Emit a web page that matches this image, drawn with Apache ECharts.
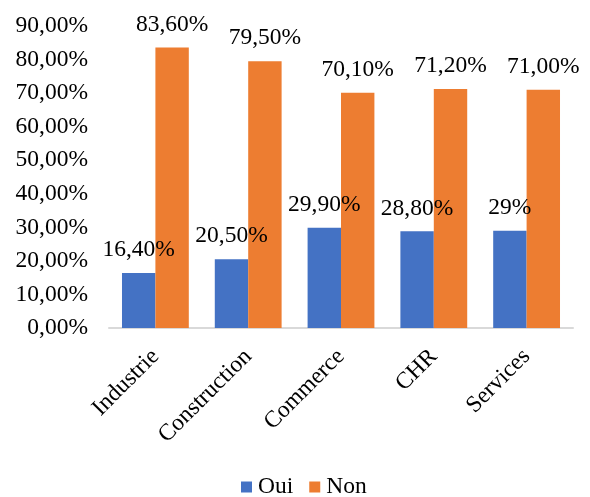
<!DOCTYPE html>
<html>
<head>
<meta charset="utf-8">
<script src="https://cdn.jsdelivr.net/npm/echarts@6/dist/echarts.min.js"></script>
<style>
  html, body { margin: 0; padding: 0; background: #fff; }
  #chart { width: 590px; height: 497px; }
</style>
</head>
<body>
<div id="chart"></div>
<script>
// Sectors on the category axis
const categories = ['Industrie', 'Construction', 'Commerce', 'CHR', 'Services'];
// Share of answers, in percent
const ouiValues = [16.4, 20.5, 29.9, 28.8, 29];
const nonValues = [83.6, 79.5, 70.1, 71.2, 71.0];
// Value labels as printed above the bars
const ouiLabels = ['16,40%', '20,50%', '29,90%', '28,80%', '29%'];
const nonLabels = ['83,60%', '79,50%', '70,10%', '71,20%', '71,00%'];
// Y axis ticks
const yMin = 0, yMax = 90, yStep = 10;

const font = "'Liberation Serif', 'Times New Roman', serif";
const fs = 23.5;
const chart = echarts.init(document.getElementById('chart'), null, { renderer: 'canvas' });

chart.setOption({
  animation: false,
  textStyle: { fontFamily: font },
  grid: { left: 109, right: 17, top: 26, bottom: 169, containLabel: false },
  legend: {
    bottom: -2,
    left: 241,
    padding: 0,
    itemWidth: 11,
    itemHeight: 11,
    itemGap: 16,
    icon: 'rect',
    textStyle: { fontFamily: font, fontSize: fs, color: '#000', padding: [0, 0, 0, 1] },
    data: ['Oui', 'Non']
  },
  xAxis: {
    type: 'category',
    data: categories,
    axisLine: { lineStyle: { color: '#d9d9d9', width: 2 } },
    axisTick: { show: false },
    axisLabel: {
      rotate: 45,
      margin: 25,
      fontFamily: font,
      fontSize: fs,
      color: '#000',
      interval: 0
    }
  },
  yAxis: {
    type: 'value',
    min: yMin,
    max: yMax,
    interval: yStep,
    splitLine: { show: false },
    axisLine: { show: false },
    axisTick: { show: false },
    axisLabel: {
      fontFamily: font,
      fontSize: fs,
      color: '#000',
      margin: 21,
      formatter: v => v.toFixed(2).replace('.', ',') + '%'
    }
  },
  series: [
    {
      name: 'Oui',
      type: 'bar',
      data: ouiValues,
      barGap: '0%',
      barCategoryGap: '28%',
      itemStyle: { color: '#4472C4' },
      label: {
        show: true,
        position: 'top',
        distance: 11,
        fontFamily: font,
        fontSize: fs,
        color: '#000',
        formatter: p => ouiLabels[p.dataIndex]
      }
    },
    {
      name: 'Non',
      type: 'bar',
      data: nonValues,
      barGap: '0%',
      barCategoryGap: '28%',
      itemStyle: { color: '#ED7D31' },
      label: {
        show: true,
        position: 'top',
        distance: 11,
        fontFamily: font,
        fontSize: fs,
        color: '#000',
        formatter: p => nonLabels[p.dataIndex]
      }
    }
  ]
});
</script>
</body>
</html>
